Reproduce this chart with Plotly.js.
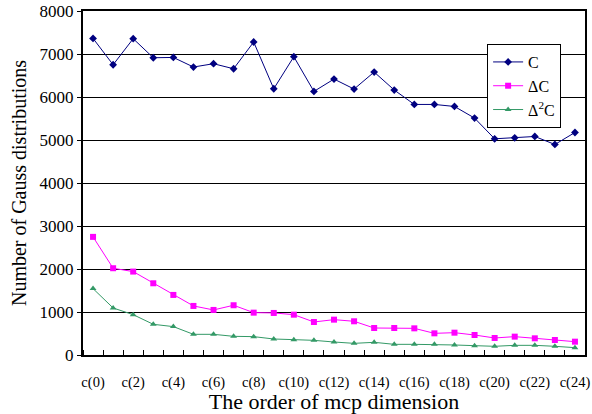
<!DOCTYPE html>
<html>
<head>
<meta charset="utf-8">
<script src="https://cdn.plot.ly/plotly-3.0.1.min.js"></script>
<style>html,body{margin:0;padding:0;background:#fff;}#chart{width:592px;height:414px;}</style>
</head>
<body>
<div id="chart"></div>
<script>
const categories = ["c(0)","c(1)","c(2)","c(3)","c(4)","c(5)","c(6)","c(7)","c(8)","c(9)","c(10)","c(11)","c(12)","c(13)","c(14)","c(15)","c(16)","c(17)","c(18)","c(19)","c(20)","c(21)","c(22)","c(23)","c(24)"];
const seriesC = [7363,6750,7356,6913,6920,6697,6774,6657,7279,6192,6937,6130,6417,6185,6580,6162,5827,5827,5780,5510,5028,5051,5082,4896,5175];
const seriesDC = [2747,2018,1940,1668,1397,1141,1048,1157,985,978,938,768,822,784,628,628,620,504,519,465,396,427,388,349,310];
const seriesD2C = [1544,1094,938,714,660,481,481,434,427,372,357,341,302,271,295,248,248,248,233,217,202,225,225,202,171];
const seriesNames = ["C","ΔC","Δ<sup>2</sup>C"];
const xTickLabels = ["c(0)","c(2)","c(4)","c(6)","c(8)","c(10)","c(12)","c(14)","c(16)","c(18)","c(20)","c(22)","c(24)"];
const yTicks = [0,1000,2000,3000,4000,5000,6000,7000,8000];

const xIdx = categories.map((c,i)=>i);
const tickIdx = xTickLabels.map(l => categories.indexOf(l));
const font = "'Liberation Serif', serif";

const traces = [
  {x:xIdx, y:seriesC, name:seriesNames[0], type:'scatter', mode:'lines+markers',
   line:{color:'#000080', width:1}, marker:{symbol:'diamond', size:6, color:'#000080'}},
  {x:xIdx, y:seriesDC, name:seriesNames[1], type:'scatter', mode:'lines+markers',
   line:{color:'#ff00ff', width:1}, marker:{symbol:'square', size:6, color:'#ff00ff'}},
  {x:xIdx, y:seriesD2C, name:seriesNames[2], type:'scatter', mode:'lines+markers',
   line:{color:'#339966', width:1}, marker:{symbol:'triangle-up', size:6, color:'#339966'}}
];

const layout = {
  width:592, height:414,
  margin:{l:83, r:7, t:11, b:59},
  paper_bgcolor:'#fff', plot_bgcolor:'#fff',
  font:{family:font, color:'#000'},
  showlegend:true,
  legend:{x:0.805, y:0.904, xanchor:'left', yanchor:'top', bgcolor:'#fff',
          bordercolor:'#000', borderwidth:1, font:{family:font, size:16, color:'#000'},
          tracegroupgap:0, itemwidth:30},
  xaxis:{
    range:[-0.5, 24.5], tickmode:'array', tickvals:tickIdx, ticktext:xTickLabels,
    ticks:'outside', ticklen:13, tickcolor:'rgba(0,0,0,0)',
    tickfont:{family:font, size:14.5, color:'#000'},
    showline:true, linecolor:'#000', linewidth:2, mirror:true,
    showgrid:false, zeroline:false,
    minor:{tickmode:'linear', tick0:0.5, dtick:1, ticks:'inside', ticklen:5, tickcolor:'#000', tickwidth:1, showgrid:false},
    title:{text:'The order of mcp dimension', font:{family:font, size:22, color:'#000'}, standoff:2}
  },
  yaxis:{
    range:[0, 8000], tickmode:'array', tickvals:yTicks,
    ticks:'outside', ticklen:4, tickcolor:'#000',
    tickfont:{family:font, size:17, color:'#000'},
    showline:true, linecolor:'#000', linewidth:2, mirror:true,
    showgrid:true, gridcolor:'#000', gridwidth:1, zeroline:false,
    title:{text:'Number of Gauss distributions', font:{family:font, size:20, color:'#000'}, standoff:8}
  }
};

Plotly.newPlot('chart', traces, layout, {displayModeBar:false, staticPlot:true});
</script>
</body>
</html>
